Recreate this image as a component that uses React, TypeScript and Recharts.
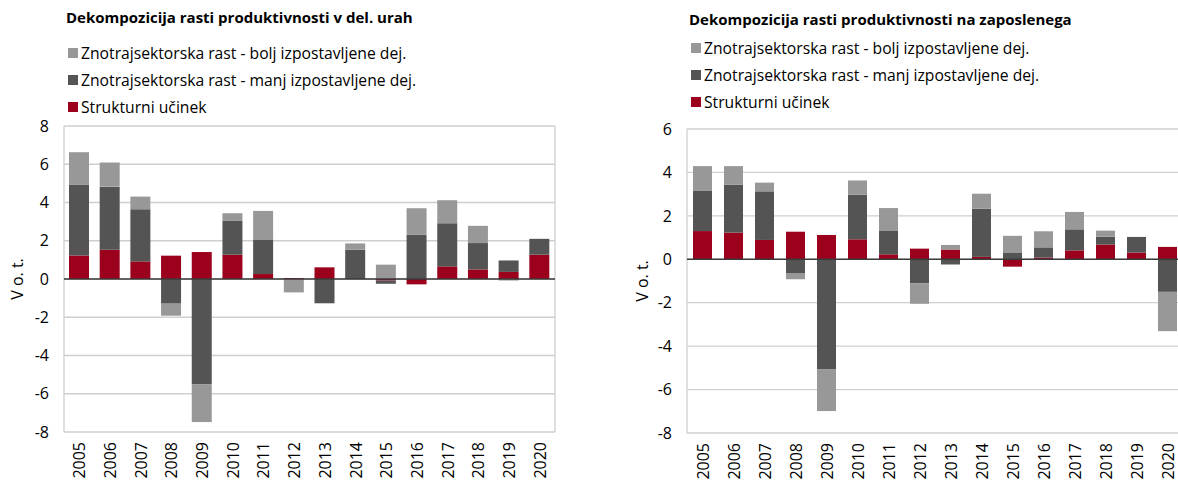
import React from "react";
import { Bar, BarChart, CartesianGrid, Label, ReferenceLine, XAxis, YAxis } from "recharts";

const years = ["2005", "2006", "2007", "2008", "2009", "2010", "2011", "2012", "2013", "2014", "2015", "2016", "2017", "2018", "2019", "2020"];

// Dekompozicija na uro
const hoursStructural = [1.23, 1.53, 0.92, 1.22, 1.41, 1.27, 0.26, 0.05, 0.61, 0, -0.08, -0.28, 0.66, 0.5, 0.37, 1.27];
const hoursLessExposed = [3.69, 3.3, 2.73, -1.29, -5.52, 1.79, 1.81, 0, -1.27, 1.53, -0.17, 2.31, 2.26, 1.38, 0.6, 0.83];
const hoursMoreExposed = [1.71, 1.26, 0.66, -0.63, -1.96, 0.38, 1.49, -0.7, 0, 0.33, 0.75, 1.39, 1.2, 0.9, -0.08, 0];

// Dekompozicija na zaposlenega
const empStructural = [1.3, 1.23, 0.89, 1.27, 1.12, 0.92, 0.23, 0.49, 0.45, 0.11, -0.34, 0.08, 0.41, 0.68, 0.31, 0.57];
const empLessExposed = [1.87, 2.2, 2.24, -0.66, -5.07, 2.05, 1.1, -1.1, -0.24, 2.22, 0.29, 0.47, 0.97, 0.36, 0.72, -1.5];
const empMoreExposed = [1.12, 0.86, 0.4, -0.26, -1.92, 0.66, 1.03, -0.95, 0.21, 0.69, 0.79, 0.74, 0.8, 0.28, 0, -1.81];

const hoursTicks = [-8, -6, -4, -2, 0, 2, 4, 6, 8];
const empTicks = [-8, -6, -4, -2, 0, 2, 4, 6];

// stack order: first one sits next to zero
const SERIES = [
  { key: "structural", name: "Strukturni učinek", color: "#9b001d" },
  { key: "less", name: "Znotrajsektorska rast - manj izpostavljene dej.", color: "#545454" },
  { key: "more", name: "Znotrajsektorska rast - bolj izpostavljene dej.", color: "#989898" },
];

const FONT = "'Open Sans', sans-serif";

function buildRows(s: number[], l: number[], m: number[]) {
  return years.map((year, i) => ({ year, structural: s[i], less: l[i], more: m[i] }));
}

const hoursData = buildRows(hoursStructural, hoursLessExposed, hoursMoreExposed);
const empData = buildRows(empStructural, empLessExposed, empMoreExposed);

function YearTick({ x, y, payload }: any) {
  return (
    <text
      x={x}
      y={y}
      transform={`rotate(-90, ${x}, ${y})`}
      textAnchor="end"
      dominantBaseline="central"
      fill="#000"
      fontSize={16}
      fontFamily={FONT}
    >
      {payload.value}
    </text>
  );
}

function StackLegend({ left, top }: { left: number; top: number }) {
  const items = [...SERIES].reverse();
  return (
    <div style={{ position: "absolute", left, top, fontFamily: FONT, fontSize: 15.7, color: "#000" }}>
      {items.map((it) => (
        <div key={it.key} style={{ display: "flex", alignItems: "center", height: 27, whiteSpace: "nowrap" }}>
          <span style={{ width: 10, height: 10, background: it.color, marginRight: 3, display: "inline-block" }} />
          <span>{it.name}</span>
        </div>
      ))}
    </div>
  );
}

interface PanelProps {
  title: string;
  data: any[];
  ticks: number[];
  left: number;
  width: number;
  top: number;
  axisWidth: number;
  xAxisHeight: number;
  titleTop: number;
  legendTop: number;
  labelDx: number;
  barSize: number;
  marginRight: number;
}

function Panel(p: PanelProps) {
  return (
    <div style={{ position: "absolute", left: p.left, top: 0, width: p.width, height: 483 }}>
      <BarChart
        width={p.width}
        height={483}
        data={p.data}
        stackOffset="sign"
        margin={{ top: p.top, right: p.marginRight, bottom: 0, left: 0 }}
      >
        <CartesianGrid
          stroke="#cfcfcf"
          strokeWidth={1.3}
          verticalCoordinatesGenerator={({ offset }: any) => [offset.left, offset.left + offset.width]}
        />
        <XAxis
          dataKey="year"
          interval={0}
          height={p.xAxisHeight}
          tickSize={0}
          tickMargin={10}
          axisLine={false}
          tick={<YearTick />}
        />
        <YAxis
          type="number"
          domain={[p.ticks[0], p.ticks[p.ticks.length - 1]]}
          ticks={p.ticks}
          width={p.axisWidth}
          tickSize={0}
          tickMargin={15}
          axisLine={false}
          tick={{ fill: "#000", fontSize: 16, fontFamily: FONT }}
        >
          <Label value="V o. t." angle={-90} position="center" dx={p.labelDx} fill="#000" fontSize={16} fontFamily={FONT} />
        </YAxis>
        {SERIES.map((s) => (
          <Bar
            key={s.key}
            dataKey={s.key}
            name={s.name}
            stackId="a"
            fill={s.color}
            barSize={p.barSize}
            isAnimationActive={false}
          />
        ))}
        <ReferenceLine y={0} stroke="#3a3a3a" strokeWidth={1.5} />
      </BarChart>
      <div
        style={{
          position: "absolute",
          left: p.axisWidth + 2,
          top: p.titleTop,
          fontFamily: FONT,
          fontWeight: 700,
          fontSize: 15,
          lineHeight: "18px",
          whiteSpace: "nowrap",
        }}
      >
        {p.title}
      </div>
      <StackLegend left={p.axisWidth + 4} top={p.legendTop} />
    </div>
  );
}

export default function App() {
  return (
    <div
      style={{
        position: "fixed",
        left: 0,
        top: 0,
        width: 1178,
        height: 483,
        overflow: "hidden",
        background: "#fff",
      }}
    >
      <Panel
        title="Dekompozicija rasti produktivnosti v del. urah"
        data={hoursData}
        ticks={hoursTicks}
        left={0}
        width={560}
        top={126}
        axisWidth={64}
        xAxisHeight={51}
        titleTop={8}
        legendTop={39}
        labelDx={-15}
        barSize={20}
        marginRight={5}
      />
      <Panel
        title="Dekompozicija rasti produktivnosti na zaposlenega"
        data={empData}
        ticks={empTicks}
        left={620}
        width={563}
        top={129}
        axisWidth={67}
        xAxisHeight={50}
        titleTop={10}
        legendTop={34}
        labelDx={-11}
        barSize={19}
        marginRight={0}
      />
    </div>
  );
}
